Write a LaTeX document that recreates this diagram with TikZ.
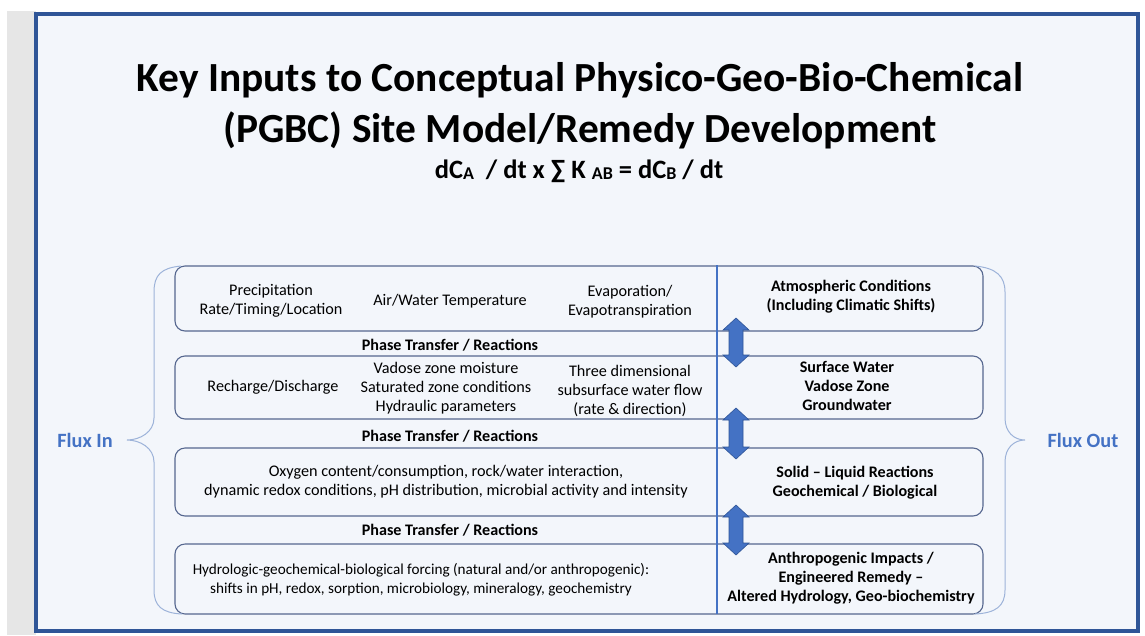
\documentclass[tikz,border=0pt]{standalone}
\usepackage{fontspec}
\setmainfont{Carlito}
\usepackage{tikz}

\definecolor{framecol}{HTML}{2F5597}
\definecolor{panelbg}{HTML}{F3F6FB}
\definecolor{stripgray}{HTML}{E6E6E6}
\definecolor{boxline}{HTML}{56678F}
\definecolor{bracecol}{HTML}{9DB3D9}
\definecolor{accent}{HTML}{4472C4}

\newcommand{\sub}[1]{\raisebox{-1pt}{\fontsize{18}{18}\selectfont #1}}

\begin{document}
\begin{tikzpicture}[x=1pt, y=-1pt,
  every node/.style={font=\fontsize{16.2}{19}\selectfont, align=center, inner sep=0pt},
  box/.style={draw=boxline, line width=1.1pt, rounded corners=10pt, minimum width=808pt},
  bold/.style={font=\bfseries\fontsize{16.1}{19}\selectfont},
  brace/.style={draw=bracecol, line width=1pt},
  updown/.style={fill=accent, draw=framecol, line width=0.6pt, line join=miter}]
\useasboundingbox (0,0) rectangle (1145,635);

% page and frame
\fill[stripgray] (7,11) rectangle (36,635);
\filldraw[fill=panelbg, draw=framecol, line width=4pt] (36,14) rectangle (1138,631);

\node[font=\bfseries\fontsize{41.4}{48}\selectfont] (title1) at (580,80) {Key Inputs to Conceptual Physico-Geo-Bio-Chemical};
\node[font=\bfseries\fontsize{41.4}{48}\selectfont] (title2) at (580,130) {(PGBC) Site Model/Remedy Development};
\node[font=\bfseries\fontsize{26.5}{30}\selectfont] (rate) at (579,171) {dC\sub{A}\ \ / dt x ∑ K \sub{AB} = dC\sub{B} / dt};

% rows
\node[box, minimum height=65pt] (box1) at (579,298.5) {};
\node[box, minimum height=63pt] (box2) at (579,387.5) {};
\node[box, minimum height=68pt] (box3) at (579,482) {};
\node[box, minimum height=70pt] (box4) at (579,579) {};
\draw[accent, line width=2.6pt] (717,265) -- (717,614);

\node (precip) at (271,301) {Precipitation\\Rate/Timing/Location};
\node (temp) at (450,301) {Air/Water Temperature};
\node (evap) at (630,302) {Evaporation/\\Evapotranspiration};
\node[bold] (atmos) at (851,297) {Atmospheric Conditions\\(Including Climatic Shifts)};

\node (recharge) at (273,387) {Recharge/Discharge};
\node (vadose) at (446,388) {Vadose zone moisture\\Saturated zone conditions\\Hydraulic parameters};
\node (flow) at (630,391) {Three dimensional\\subsurface water flow\\(rate \& direction)};
\node[bold] (water) at (847,386) {Surface Water\\Vadose Zone\\Groundwater};

\node (redox) at (446,482) {Oxygen content/consumption, rock/water interaction,\\dynamic redox conditions, pH distribution, microbial activity and intensity};
\node[bold] (solid) at (855,483) {Solid – Liquid Reactions\\Geochemical / Biological};

\node[font=\fontsize{15.2}{19}\selectfont] (forcing) at (421,580) {Hydrologic-geochemical-biological forcing (natural and/or anthropogenic):\\shifts in pH, redox, sorption, microbiology, mineralogy, geochemistry};
\node[bold] (remedy) at (851,578) {Anthropogenic Impacts /\\Engineered Remedy –\\Altered Hydrology, Geo-biochemistry};

\node[bold] (phase1) at (450,345) {Phase Transfer / Reactions};
\node[bold] (phase2) at (450,436) {Phase Transfer / Reactions};
\node[bold] (phase3) at (450,530) {Phase Transfer / Reactions};

% exchange arrows between rows
\foreach \yt/\yb in {318/367, 408/459, 505/555}
  \path[updown] (736,\yt) -- (749,\yt+12) -- (743,\yt+12) -- (743,\yb-12) -- (749,\yb-12)
    -- (736,\yb) -- (723,\yb-12) -- (729,\yb-12) -- (729,\yt+12) -- (723,\yt+12) -- cycle;

% braces
\draw[brace] (181,266) .. controls (161,268) and (154,275) .. (154,292) -- (154,418)
  .. controls (154,432) and (140,440) .. (127,440) .. controls (140,440) and (154,448) .. (154,462)
  -- (154,590) .. controls (154,606) and (162,613) .. (182,614);
\draw[brace] (975,266) .. controls (996,268) and (1005,276) .. (1005,292) -- (1005,418)
  .. controls (1005,432) and (1014,440) .. (1025,440) .. controls (1014,440) and (1005,448) .. (1005,462)
  -- (1005,590) .. controls (1005,606) and (996,613) .. (975,614);

\node[font=\bfseries\fontsize{20.3}{24}\selectfont, text=accent] (fluxin) at (85,440) {Flux In};
\node[font=\bfseries\fontsize{20.3}{24}\selectfont, text=accent] (fluxout) at (1083,440) {Flux Out};
\end{tikzpicture}
\end{document}
